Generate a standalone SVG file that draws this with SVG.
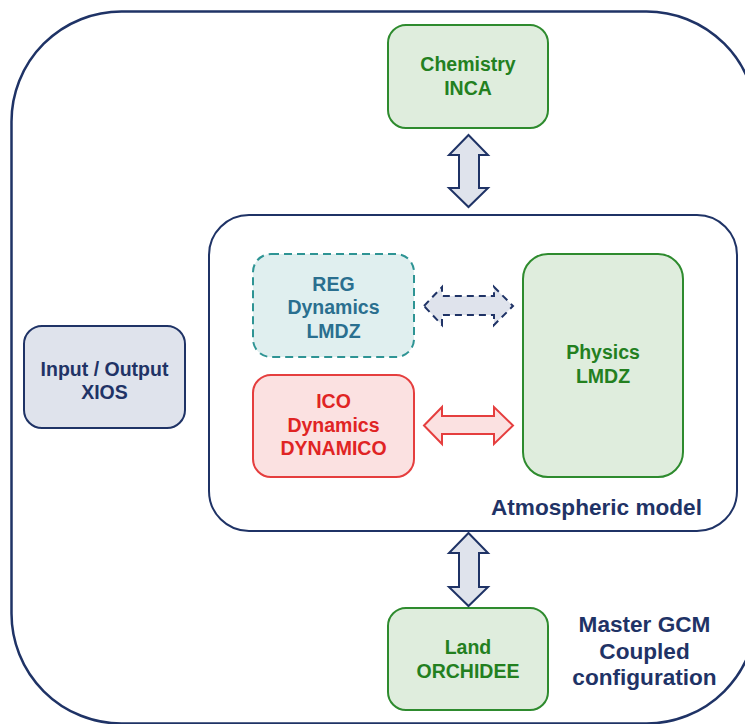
<svg xmlns="http://www.w3.org/2000/svg" width="745" height="724" viewBox="0 0 745 724">
<style>
text{font-family:"Liberation Sans",Arial,sans-serif;font-weight:bold;text-anchor:middle}
.n{font-size:19.5px}
.big{font-size:22.6px;fill:#1f3366}
.green rect{fill:#dfeddd;stroke:#2e8b2e;stroke-width:2}
.green text{fill:#23801f}
.navy rect{fill:#dfe3ec;stroke:#1f3366;stroke-width:2}
.navy text{fill:#1f3366}
.arr{fill:#dfe3ec;stroke:#1f3366;stroke-width:2;stroke-linejoin:miter}
</style>
<rect width="745" height="724" fill="#ffffff"/>
<g id="master">
<rect x="11.5" y="11.5" width="745" height="712" rx="110" ry="110" fill="none" stroke="#1f3366" stroke-width="2.5"/>
<text class="big" x="644.5" y="632">Master GCM</text>
<text class="big" x="644.5" y="659">Coupled</text>
<text class="big" x="644.5" y="685">configuration</text>
</g>
<g id="atmospheric">
<rect x="209" y="215" width="528" height="316" rx="40" ry="40" fill="#ffffff" stroke="#1f3366" stroke-width="2"/>
<text class="big" x="596.5" y="515">Atmospheric model</text>
</g>
<g id="chemistry" class="green">
<rect x="388" y="25" width="160" height="103" rx="18" ry="18"/>
<text class="n" x="468" y="71">Chemistry</text>
<text class="n" x="468" y="95">INCA</text>
</g>
<g id="land" class="green">
<rect x="388" y="608" width="160" height="102" rx="18" ry="18"/>
<text class="n" x="468" y="654">Land</text>
<text class="n" x="468" y="678">ORCHIDEE</text>
</g>
<g id="io" class="navy">
<rect x="24" y="326" width="161" height="102" rx="18" ry="18"/>
<text class="n" x="104.5" y="376">Input / Output</text>
<text class="n" x="104.5" y="399">XIOS</text>
</g>
<g id="reg">
<rect x="253" y="254" width="161" height="103" rx="18" ry="18" fill="#e0efef" stroke="#2e9494" stroke-width="2" stroke-dasharray="8,5"/>
<text class="n" x="333.5" y="291" fill="#2a6f8f">REG</text>
<text class="n" x="333.5" y="314" fill="#2a6f8f">Dynamics</text>
<text class="n" x="333.5" y="338" fill="#2a6f8f">LMDZ</text>
</g>
<g id="ico">
<rect x="253" y="375" width="161" height="102" rx="18" ry="18" fill="#fbe1e1" stroke="#e53e3e" stroke-width="2"/>
<text class="n" x="333.5" y="408" fill="#e02424">ICO</text>
<text class="n" x="333.5" y="432" fill="#e02424">Dynamics</text>
<text class="n" x="333.5" y="455" fill="#e02424">DYNAMICO</text>
</g>
<g id="physics" class="green">
<rect x="523" y="254" width="160" height="223" rx="25" ry="25"/>
<text class="n" x="603" y="359">Physics</text>
<text class="n" x="603" y="383">LMDZ</text>
</g>
<g id="connectors">
<path class="arr" d="M468.5,135 L488,155 L479,155 L479,188 L488,188 L468.5,207 L449,188 L459,188 L459,155 L449,155 Z"/>
<path class="arr" d="M468.5,533 L488,553 L479,553 L479,587 L488,587 L468.5,606 L449,587 L459,587 L459,553 L449,553 Z"/>
<path class="arr" stroke-dasharray="7,5" d="M424,306 L442,287 L442,296 L494,296 L494,287 L513,306 L494,325 L494,315 L442,315 L442,325 Z"/>
<path d="M424,425.5 L442,407 L442,416 L494,416 L494,407 L513,425.5 L494,444 L494,434 L442,434 L442,444 Z" fill="#fbe1e1" stroke="#e53e3e" stroke-width="2"/>
</g>
</svg>
